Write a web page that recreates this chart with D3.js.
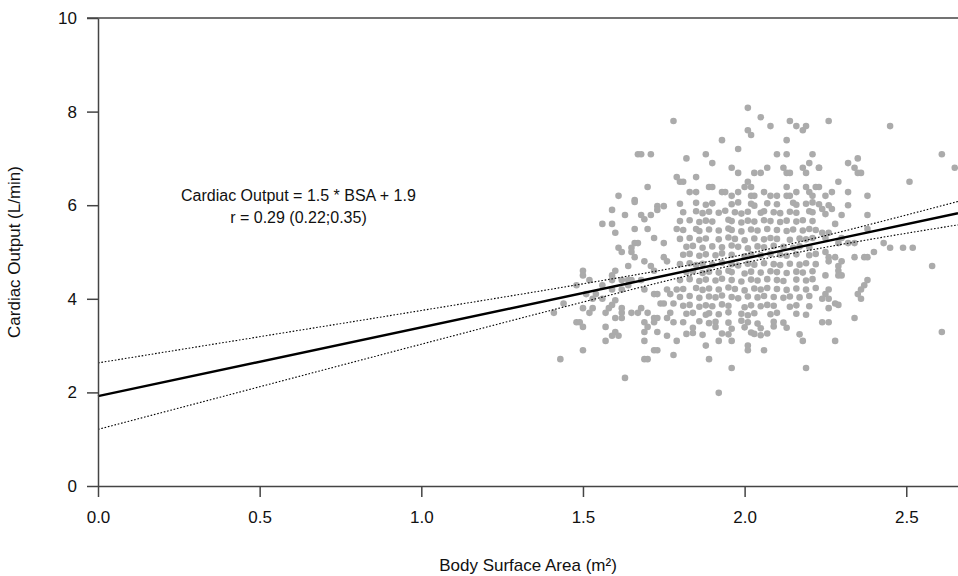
<!DOCTYPE html>
<html>
<head>
<meta charset="utf-8">
<script src="https://cdn.jsdelivr.net/npm/d3@7"></script>
<style>
  body { margin: 0; background: #fff; }
  .canvas { width: 958px; height: 576px; }
  text { font-family: "Liberation Sans", Arial, sans-serif; fill: #111; }
</style>
</head>
<body>
<div class="canvas"></div>
<script>
// [body surface area (m²), cardiac output (L/min)]
const points = [
  [1.78,7.80],[1.67,7.09],[1.68,7.09],[1.71,7.09],[1.79,6.60],[1.80,6.50],[1.70,6.39],[1.61,6.20],[1.66,6.11],
  [2.01,8.08],[2.05,7.88],[2.14,7.80],[2.08,7.69],[2.16,7.69],[2.19,7.69],[2.18,7.60],[2.01,7.60],[2.02,7.50],
  [1.93,7.39],[2.13,7.39],[1.98,7.20],[1.82,7.00],[1.88,7.09],[2.10,7.09],[2.13,7.09],[2.21,7.09],[1.90,6.90],
  [1.96,6.80],[1.98,6.69],[2.03,6.69],[2.05,6.69],[2.07,6.80],[2.12,6.80],[2.13,6.69],[2.14,6.69],[2.20,6.90],
  [2.18,6.80],[2.19,6.69],[2.23,6.80],[1.85,6.60],[1.81,6.50],[1.83,6.28],[1.85,6.28],[1.89,6.39],[1.90,6.39],
  [1.93,6.28],[1.94,6.28],[1.96,6.20],[1.98,6.28],[2.00,6.39],[2.01,6.50],[2.02,6.39],[2.02,6.20],[2.03,6.20],
  [2.06,6.28],[2.08,6.20],[2.10,6.20],[2.13,6.39],[2.13,6.20],[2.14,6.20],[2.16,6.28],[2.19,6.39],[2.20,6.28],
  [2.21,6.20],[2.22,6.39],
  // right side
  [2.26,7.80],[2.45,7.69],[2.61,7.09],[2.65,6.80],[2.35,7.00],[2.32,6.90],[2.34,6.80],[2.35,6.69],[2.36,6.69],
  [2.23,6.80],[2.29,6.50],[2.51,6.50],[2.23,6.39],[2.27,6.28],[2.32,6.28],[2.25,6.20],[2.38,6.20],[2.26,6.00],
  [2.27,5.92],[2.32,6.00],[2.24,5.92],[2.25,5.81],[2.30,5.79],[2.38,5.79],[2.28,5.60],[2.38,5.49],[2.24,5.41],
  [2.26,5.41],[2.25,5.30],[2.30,5.30],[2.29,5.19],[2.32,5.19],[2.34,5.19],[2.43,5.19],[2.45,5.09],[2.49,5.09],
  [2.52,5.09],[2.40,5.00],[2.25,5.00],[2.26,4.89],[2.26,4.80],[2.28,4.89],[2.34,4.89],[2.37,4.89],[2.38,4.89],
  [2.30,4.80],[2.29,4.70],[2.29,4.60],[2.30,4.50],[2.29,4.50],[2.58,4.70],[2.25,4.50],[2.38,4.40],[2.37,4.29],
  [2.36,4.20],[2.35,4.10],[2.36,4.00],[2.26,4.20],[2.25,4.10],[2.24,4.00],[2.26,4.00],[2.28,3.90],[2.26,3.80],
  [2.29,3.87],[2.24,3.50],[2.26,3.50],[2.34,3.59],[2.28,3.10],[2.61,3.29],
  // left side
  [1.66,6.07],[1.59,5.90],[1.63,5.79],[1.68,5.79],[1.69,5.70],[1.71,5.79],[1.73,5.98],[1.75,5.98],[1.73,5.90],
  [1.56,5.60],[1.59,5.60],[1.66,5.49],[1.70,5.49],[1.60,5.41],[1.79,5.49],[1.72,5.30],[1.61,5.09],[1.62,5.00],
  [1.66,5.19],[1.65,5.09],[1.65,5.00],[1.66,4.89],[1.67,5.19],[1.75,5.19],[1.75,4.89],[1.76,4.80],[1.69,4.80],
  [1.64,4.70],[1.71,4.70],[1.72,4.60],[1.50,4.60],[1.50,4.50],[1.60,4.60],[1.59,4.50],[1.52,4.40],[1.59,4.40],
  [1.62,4.40],[1.64,4.40],[1.65,4.40],[1.68,4.40],[1.48,4.29],[1.56,4.29],[1.59,4.20],[1.62,4.20],[1.64,4.29],
  [1.69,4.20],[1.51,4.10],[1.54,4.10],[1.53,4.00],[1.56,4.00],[1.60,3.97],[1.44,3.90],[1.72,4.10],[1.73,4.10],
  [1.76,4.20],[1.77,4.10],[1.79,4.20],[1.74,3.90],[1.75,3.90],[1.78,3.90],[1.41,3.70],[1.50,3.80],[1.53,3.80],
  [1.52,3.70],[1.48,3.50],[1.49,3.50],[1.50,3.40],[1.57,3.70],[1.58,3.80],[1.59,3.87],[1.60,3.59],[1.62,3.59],
  [1.62,3.70],[1.62,3.80],[1.65,3.70],[1.57,3.40],[1.60,3.29],[1.59,3.21],[1.61,3.21],[1.57,3.10],[1.50,2.90],
  [1.43,2.71],[1.63,2.31],[1.67,3.70],[1.68,3.80],[1.70,3.70],[1.72,3.59],[1.73,3.59],[1.72,3.50],[1.69,3.50],
  [1.70,3.40],[1.69,3.29],[1.69,3.10],[1.73,3.29],[1.72,2.90],[1.73,2.90],[1.69,2.71],[1.70,2.71],[1.76,3.21],
  [1.79,3.10],[1.78,2.80],[1.76,3.59],[1.77,3.70],[1.78,3.50],
  // dense centre
  [1.80,6.03],[1.85,6.05],[1.88,6.01],[1.90,6.04],[1.96,6.02],[1.98,6.06],[2.02,6.03],[2.03,5.99],[2.07,6.04],
  [2.10,6.02],[2.15,6.05],[2.16,6.01],[2.19,6.03],[2.21,6.06],[2.23,6.02],
  [1.81,5.85],[1.85,5.87],[1.87,5.83],[1.89,5.86],[1.92,5.84],[1.94,5.88],[1.97,5.85],[1.99,5.82],[2.01,5.86],
  [2.05,5.84],[2.06,5.87],[2.09,5.85],[2.11,5.83],[2.14,5.86],[2.16,5.84],[2.20,5.87],[2.21,5.85],
  [1.80,5.66],[1.83,5.68],[1.86,5.64],[1.88,5.67],[1.90,5.65],[1.95,5.69],[1.96,5.66],[1.99,5.63],[2.01,5.67],
  [2.03,5.65],[2.06,5.68],[2.08,5.66],[2.11,5.64],[2.13,5.67],[2.16,5.65],[2.18,5.68],[2.21,5.66],
  [1.81,5.47],[1.85,5.49],[1.86,5.45],[1.89,5.48],[1.92,5.46],[1.95,5.50],[1.96,5.47],[1.99,5.44],[2.02,5.48],
  [2.04,5.46],[2.07,5.49],[2.10,5.47],[2.13,5.45],[2.15,5.48],[2.18,5.46],[2.20,5.49],[2.22,5.47],
  [1.80,5.28],[1.83,5.30],[1.86,5.26],[1.88,5.29],[1.92,5.27],[1.95,5.31],[1.97,5.28],[2.00,5.25],[2.03,5.29],
  [2.06,5.27],[2.08,5.30],[2.10,5.28],[2.14,5.26],[2.17,5.29],[2.19,5.27],[2.21,5.30],
  [1.82,5.11],[1.84,5.13],[1.87,5.09],[1.90,5.12],[1.93,5.10],[1.96,5.14],[1.98,5.11],[2.01,5.08],[2.04,5.12],
  [2.06,5.10],[2.09,5.13],[2.12,5.11],[2.15,5.09],[2.17,5.12],[2.20,5.10],
  [1.81,4.94],[1.83,4.96],[1.86,4.92],[1.88,4.95],[1.91,4.93],[1.93,4.97],[1.96,4.94],[2.00,4.91],[2.02,4.95],
  [2.05,4.93],[2.08,4.96],[2.11,4.94],[2.13,4.92],[2.16,4.95],[2.20,4.93],[2.22,4.96],
  [1.80,4.74],[1.83,4.76],[1.85,4.72],[1.87,4.75],[1.90,4.73],[1.93,4.77],[1.96,4.74],[1.98,4.71],[2.01,4.75],
  [2.03,4.73],[2.06,4.76],[2.09,4.74],[2.11,4.72],[2.14,4.75],[2.17,4.73],[2.19,4.76],[2.22,4.74],
  [1.82,4.57],[1.84,4.59],[1.87,4.55],[1.89,4.58],[1.92,4.56],[1.95,4.60],[1.96,4.57],[2.00,4.54],[2.02,4.58],
  [2.05,4.56],[2.08,4.59],[2.10,4.57],[2.13,4.55],[2.16,4.58],[2.18,4.56],[2.21,4.59],
  [1.80,4.40],[1.83,4.42],[1.86,4.38],[1.88,4.41],[1.91,4.39],[1.93,4.43],[1.96,4.40],[1.99,4.37],[2.02,4.41],
  [2.04,4.39],[2.07,4.42],[2.10,4.40],[2.12,4.38],[2.16,4.41],[2.19,4.39],[2.21,4.42],
  [1.81,4.21],[1.85,4.23],[1.87,4.19],[1.89,4.22],[1.92,4.20],[1.95,4.24],[1.97,4.21],[2.00,4.18],[2.03,4.22],
  [2.05,4.20],[2.07,4.23],[2.10,4.21],[2.13,4.19],[2.16,4.22],[2.19,4.20],[2.22,4.23],
  [1.80,4.04],[1.83,4.06],[1.86,4.02],[1.89,4.05],[1.91,4.03],[1.93,4.07],[1.96,4.04],[1.98,4.01],[2.01,4.05],
  [2.04,4.03],[2.06,4.06],[2.09,4.04],[2.12,4.02],[2.14,4.05],[2.17,4.03],[2.20,4.06],
  [1.81,3.85],[1.83,3.87],[1.86,3.83],[1.88,3.86],[1.90,3.84],[1.93,3.88],[1.95,3.85],[2.00,3.82],[2.02,3.86],
  [2.05,3.84],[2.07,3.87],[2.09,3.85],[2.14,3.83],[2.16,3.86],[2.20,3.84],
  [1.82,3.68],[1.84,3.70],[1.88,3.66],[1.89,3.69],[1.92,3.67],[1.95,3.71],[1.99,3.68],[2.01,3.65],[2.03,3.69],
  [2.08,3.67],[2.10,3.70],[2.16,3.68],[2.19,3.66],
  [1.81,3.50],[1.86,3.52],[1.89,3.48],[1.91,3.51],[1.95,3.49],[1.99,3.53],[2.01,3.50],[2.04,3.47],[2.09,3.51],
  [2.12,3.49],
  [1.84,3.38],[1.91,3.40],[1.96,3.36],[2.00,3.39],[2.05,3.37],[2.09,3.41],[2.13,3.38],
  [1.82,3.25],[1.84,3.27],[1.87,3.23],[1.93,3.26],[1.95,3.24],[2.02,3.28],[2.03,3.25],[2.05,3.22],[2.07,3.26],
  [2.17,3.24],
  // low tail
  [1.92,3.10],[1.96,3.10],[2.18,3.10],[1.88,3.00],[2.01,3.00],[2.01,2.90],[2.06,2.90],[1.89,2.71],
  [1.96,2.52],[2.19,2.52],[1.92,1.99]
];

const xTicks = [0, 0.5, 1.0, 1.5, 2.0, 2.5];
const yTicks = [0, 2, 4, 6, 8, 10];

// fitted line and its 95% band, read at a few BSA values
const fitX = [0, 2.66];
const fitY = [1.92, 5.83];
const bandX = [0, 0.5, 1.0, 1.5, 1.75, 2.0, 2.25, 2.5, 2.66];
const bandUpper = [2.63, 3.19, 3.75, 4.32, 4.62, 4.95, 5.35, 5.79, 6.08];
const bandLower = [1.21, 2.12, 3.03, 3.93, 4.37, 4.77, 5.10, 5.40, 5.58];

const labels = ["Cardiac Output = 1.5 * BSA + 1.9", "r = 0.29 (0.22;0.35)"];

const margin = { top: 18, right: 0, bottom: 90, left: 98 };
const W = 958, H = 576;
const width = W - margin.left - margin.right;
const height = H - margin.top - margin.bottom;

const x = d3.scaleLinear().domain([0, 2.66]).range([0, width]);
const y = d3.scaleLinear().domain([0, 10]).range([height, 0]);

const svg = d3.select(".canvas").append("svg").attr("width", W).attr("height", H);
const chart = svg.append("g").attr("transform", `translate(${margin.left}, ${margin.top})`);

chart
  .selectAll("circle")
  .data(points)
  .enter()
  .append("circle")
  .attr("cx", (d) => x(d[0]))
  .attr("cy", (d) => y(d[1]))
  .attr("r", 3.3)
  .attr("fill", "#ababab");

const line = d3.line().x((d) => x(d[0])).y((d) => y(d[1]));
const curve = d3.line().x((d) => x(d[0])).y((d) => y(d[1])).curve(d3.curveMonotoneX);

[bandUpper, bandLower].forEach((band) => {
  chart
    .append("path")
    .attr("d", curve(bandX.map((v, i) => [v, band[i]])))
    .attr("fill", "none")
    .attr("stroke", "#000")
    .attr("stroke-width", 1.1)
    .attr("stroke-dasharray", "1.6,1.8");
});

chart
  .append("path")
  .attr("d", line(fitX.map((v, i) => [v, fitY[i]])))
  .attr("fill", "none")
  .attr("stroke", "#000")
  .attr("stroke-width", 2.4);

const xAxis = d3.axisBottom(x).tickValues(xTicks).tickFormat(d3.format(".1f")).tickSize(11).tickPadding(14).tickSizeOuter(0);
const yAxis = d3.axisLeft(y).tickValues(yTicks).tickSize(11).tickPadding(10).tickSizeOuter(0);

const gx = chart.append("g").attr("transform", `translate(0, ${height})`).call(xAxis);
const gy = chart.append("g").call(yAxis);

[gx, gy].forEach((g) => {
  g.selectAll("path, line").attr("stroke", "#444").attr("stroke-width", 1.5);
  g.selectAll("text").attr("font-size", 17).attr("font-family", "Liberation Sans, Arial, sans-serif").attr("fill", "#111");
});

// top border of the plot
chart
  .append("line")
  .attr("x1", -11)
  .attr("x2", width)
  .attr("y1", 0)
  .attr("y2", 0)
  .attr("stroke", "#444")
  .attr("stroke-width", 1.5);

chart
  .append("text")
  .attr("x", width / 2)
  .attr("y", height + 85)
  .attr("text-anchor", "middle")
  .attr("font-size", 17)
  .text("Body Surface Area (m²)");

chart
  .append("text")
  .attr("transform", `translate(${-78}, ${height / 2}) rotate(-90)`)
  .attr("text-anchor", "middle")
  .attr("font-size", 17)
  .text("Cardiac Output (L/min)");

chart
  .selectAll(".eq")
  .data(labels)
  .enter()
  .append("text")
  .attr("class", "eq")
  .attr("x", x(0.62))
  .attr("y", (d, i) => y(6.08) + i * 22)
  .attr("text-anchor", "middle")
  .attr("font-size", 16)
  .text((d) => d);
</script>
</body>
</html>
